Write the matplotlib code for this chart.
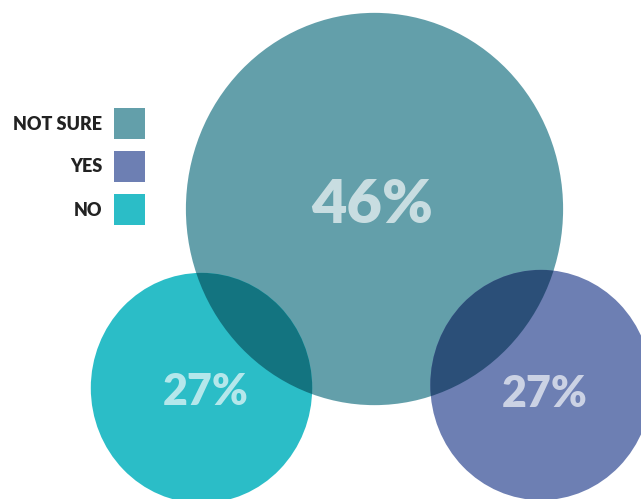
import matplotlib.pyplot as plt
from matplotlib.patches import Ellipse, Rectangle

# ---- data ---------------------------------------------------------------------
labels = ["NOT SURE", "YES", "NO"]
values = [46, 27, 27]
colors = ["#639FAA", "#6D7FB3", "#2BBDC7"]
overlap_colors = {"YES": "#2B4F78", "NO": "#137480"}

# circle centres in pixel space (layout, not data)
centres = {"NOT SURE": (374.5, 209), "YES": (541, 385), "NO": (201.5, 388)}
label_pos = {"NOT SURE": (372, 205), "YES": (545, 394), "NO": (206, 392)}
font_sizes = {"NOT SURE": 44, "YES": 31, "NO": 31}

PX_PER_UNIT = 4.1   # horizontal radius per percent
Y_STRETCH = 1.04    # reference is slightly taller than wide

plt.rcParams["font.family"] = ["Lato", "DejaVu Sans"]

fig = plt.figure(figsize=(6.41, 4.99), dpi=100)
ax = fig.add_axes([0, 0, 1, 1])
ax.set_xlim(0, 641)
ax.set_ylim(499, 0)
ax.axis("off")


def blob(name, color, z):
    v = values[labels.index(name)]
    rx = v * PX_PER_UNIT
    e = Ellipse(centres[name], 2 * rx, 2 * rx * Y_STRETCH,
                facecolor=color, edgecolor="none", zorder=z)
    ax.add_patch(e)
    return e


big = blob("NOT SURE", colors[0], 1)
blob("YES", colors[1], 2)
blob("NO", colors[2], 2)

# darker lens where small circles overlap the big one
for name in ("YES", "NO"):
    lens = blob(name, overlap_colors[name], 3)
    lens.set_clip_path(big)

for name, v in zip(labels, values):
    x, y = label_pos[name]
    ax.text(x, y, f"{v}%", ha="center", va="center", color="white",
            alpha=0.65, fontsize=font_sizes[name], weight="heavy", zorder=5)

# ---- legend -------------------------------------------------------------------
for i, (name, c) in enumerate(zip(labels, colors)):
    y0 = 108 + i * 43
    ax.add_patch(Rectangle((114, y0), 31, 31, facecolor=c, edgecolor="none"))
    ax.text(102, y0 + 16, name, ha="right", va="center", fontsize=13,
            weight="heavy", color="#222222")

fig.savefig("out.png", dpi=100)
